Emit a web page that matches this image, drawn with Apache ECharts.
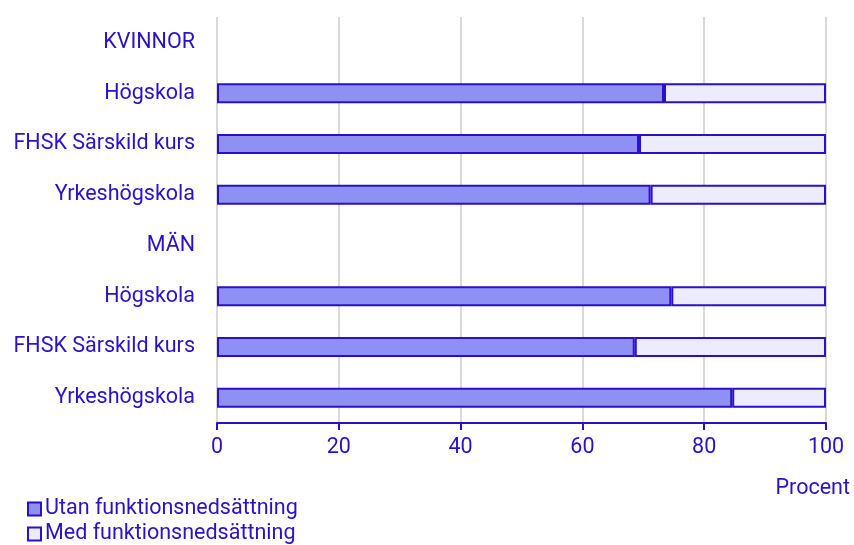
<!DOCTYPE html>
<html>
<head>
<meta charset="utf-8">
<script src="https://cdn.jsdelivr.net/npm/echarts@6/dist/echarts.min.js"></script>
<style>
  html, body { margin: 0; padding: 0; background: #fff; }
  #c1 { width: 854px; height: 545px; }
</style>
</head>
<body>
<div id="c1"></div>
<script>
  const categories = ['KVINNOR', 'Högskola', 'FHSK Särskild kurs', 'Yrkeshögskola', 'MÄN', 'Högskola', 'FHSK Särskild kurs', 'Yrkeshögskola']
  const utan = [null, 73.4, 69.3, 71.2, null, 74.6, 68.6, 84.6]
  const med = [null, 26.6, 30.7, 28.8, null, 25.4, 31.4, 15.4]
  const xTicks = [0, 20, 40, 60, 80, 100]
  const seriesNames = ['Utan funktionsnedsättning', 'Med funktionsnedsättning']

  const textColor = '#2a10c8'
  const font = 'Roboto'
  const fs = 21.5

  const legendBase = {
    orient: 'vertical',
    left: 22,
    itemWidth: 13,
    itemHeight: 13,
    icon: 'rect',
    textStyle: { color: textColor, fontSize: fs, fontFamily: font, padding: [0, 0, 0, -1] }
  }

  const myChart = echarts.init(document.getElementById('c1'))
  const option = {
    animation: false,
    textStyle: { fontFamily: font },
    grid: {
      left: 217,
      right: 28,
      top: 17,
      bottom: 122
    },
    xAxis: {
      type: 'value',
      min: xTicks[0],
      max: xTicks[xTicks.length - 1],
      interval: 20,
      axisLine: { show: true, lineStyle: { color: textColor, width: 2 } },
      axisTick: { show: true, length: 7, lineStyle: { color: textColor, width: 2 } },
      axisLabel: { color: textColor, fontSize: fs, fontFamily: font, margin: 14 },
      splitLine: { show: true, lineStyle: { color: '#d9d9d9', width: 2 } }
    },
    yAxis: {
      type: 'category',
      inverse: true,
      data: categories,
      axisLine: { show: false },
      axisTick: { show: false },
      axisLabel: { color: textColor, fontSize: fs, fontFamily: font, margin: 22 }
    },
    legend: [
      Object.assign({}, legendBase, { top: 493, data: [seriesNames[0]] }),
      Object.assign({}, legendBase, { top: 518, data: [seriesNames[1]] })
    ],
    graphic: [
      {
        type: 'text',
        right: 4,
        top: 478,
        style: { text: 'Procent', fill: textColor, font: fs + 'px Roboto' }
      }
    ],
    series: [
      {
        name: seriesNames[0],
        type: 'bar',
        stack: 'total',
        barWidth: 20,
        data: utan,
        itemStyle: { color: '#8e90f3', borderColor: textColor, borderWidth: 2 }
      },
      {
        name: seriesNames[1],
        type: 'bar',
        stack: 'total',
        barWidth: 20,
        data: med,
        itemStyle: { color: '#ececfd', borderColor: textColor, borderWidth: 2 }
      }
    ]
  }
  myChart.setOption(option)
</script>
</body>
</html>
